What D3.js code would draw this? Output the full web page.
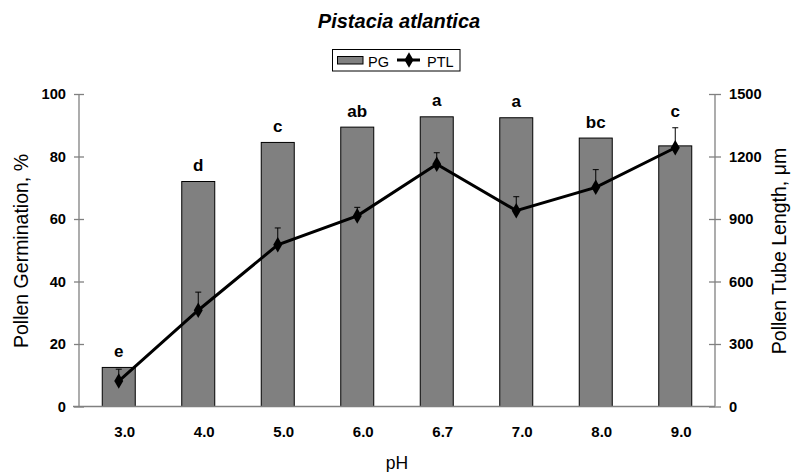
<!DOCTYPE html>
<html><head><meta charset="utf-8">
<script src="https://cdn.jsdelivr.net/npm/d3@7"></script>
<style>body{margin:0;background:#fff}svg{font-family:"Liberation Sans",Arial,sans-serif}</style>
</head><body><svg id="c" width="792" height="472"></svg>
<script>
const categories = ["3.0","4.0","5.0","6.0","6.7","7.0","8.0","9.0"];
const pgValues = [12.5, 72.0, 84.5, 89.4, 92.7, 92.4, 85.9, 83.4];
const ptlValues = [122, 462, 776, 915, 1163, 940, 1052, 1242];
const ptlErrors = [57, 87, 81, 41, 55, 67, 85, 96];
const letters = ["e","d","c","ab","a","a","bc","c"];
const leftTicks = [0,20,40,60,80,100];
const rightTicks = [0,300,600,900,1200,1500];

const svg = d3.select("#c");
const FF = "Liberation Sans, Arial, sans-serif";
const m = {l:79, r:715, t:94, b:406.5};
const x = d3.scaleBand().domain(categories).range([m.l, m.r]).paddingInner(0.585).paddingOuter(0.2925);
const yL = d3.scaleLinear().domain([0,100]).range([m.b, m.t]);
const yR = d3.scaleLinear().domain([0,1500]).range([m.b, m.t]);
const cx = d => x(d) + x.bandwidth()/2;

// title
svg.append("text").attr("x",399).attr("y",27.5).attr("text-anchor","middle")
  .attr("font-size",20).attr("font-weight","bold").attr("font-style","italic").text("Pistacia atlantica");

// bars
svg.selectAll("rect.bar").data(categories).enter().append("rect").attr("class","bar")
  .attr("x", d=>x(d)).attr("width", x.bandwidth())
  .attr("y", (d,i)=>yL(pgValues[i])).attr("height",(d,i)=>yL(0)-yL(pgValues[i]))
  .attr("fill","#808080").attr("stroke","#000").attr("stroke-width",1);

// axes
const axL = svg.append("g").attr("transform",`translate(${m.l},0)`)
  .call(d3.axisLeft(yL).tickValues(leftTicks).tickSize(5).tickPadding(8));
const axR = svg.append("g").attr("transform",`translate(${m.r},0)`)
  .call(d3.axisRight(yR).tickValues(rightTicks).tickFormat(d3.format("d")).tickSize(6).tickPadding(8));
[axL, axR].forEach(a=>{
  a.attr("font-size",14.5).attr("font-family",FF);
  a.select(".domain").attr("stroke","#808080").attr("stroke-width",1.3).attr("d", `M0,${m.b}V${m.t}`);
  a.selectAll(".tick line").attr("stroke","#808080").attr("stroke-width",1.3);
  a.selectAll(".tick text").attr("font-size",14.7).attr("font-weight","bold").attr("fill","#000");
});
axL.selectAll(".tick line").attr("x1",5).attr("x2",-5);
axR.selectAll(".tick line").attr("x1",-6).attr("x2",6);
const axB = svg.append("g").attr("transform",`translate(0,${m.b})`)
  .call(d3.axisBottom(x).tickSize(0).tickPadding(19.5));
axB.attr("font-size",15).attr("font-family",FF);
axB.select(".domain").attr("stroke","#808080").attr("stroke-width",1.3).attr("d",`M${m.l-6},0H${m.r}`);
axB.selectAll(".tick text").attr("font-size",15).attr("font-weight","bold").attr("fill","#000").attr("dx",6);

// error bars
const eg = svg.append("g");
categories.forEach((c,i)=>{
  const xx = cx(c), y0 = yR(ptlValues[i]), y1 = yR(ptlValues[i]+ptlErrors[i]);
  eg.append("line").attr("x1",xx).attr("x2",xx).attr("y1",y0).attr("y2",y1).attr("stroke","#000").attr("stroke-width",1);
  eg.append("line").attr("x1",xx-3).attr("x2",xx+3).attr("y1",y1).attr("y2",y1).attr("stroke","#000").attr("stroke-width",1);
});

// line
const line = d3.line().x((d,i)=>cx(categories[i])).y(d=>yR(d));
svg.append("path").datum(ptlValues).attr("d",line).attr("fill","none").attr("stroke","#000").attr("stroke-width",3);
const diamond = d3.symbol().type(d3.symbolDiamond).size(70);
svg.selectAll("path.pt").data(ptlValues).enter().append("path").attr("class","pt")
  .attr("d",diamond).attr("transform",(d,i)=>`translate(${cx(categories[i])},${yR(d)})`).attr("fill","#000");

// letters
svg.selectAll("text.let").data(letters).enter().append("text").attr("class","let")
  .attr("x",(d,i)=>cx(categories[i]))
  .attr("y",(d,i)=>Math.min(yL(pgValues[i]), yR(ptlValues[i]+ptlErrors[i])) - 10.5)
  .attr("text-anchor","middle").attr("font-size",17).attr("font-weight","bold").text(d=>d);

// axis titles
svg.append("text").attr("transform","translate(28,251) rotate(-90)").attr("text-anchor","middle")
  .attr("font-size",19.5).text("Pollen Germination, %");
svg.append("text").attr("transform","translate(786,251) rotate(-90)").attr("text-anchor","middle")
  .attr("font-size",19.5).text("Pollen Tube Length, μm");
svg.append("text").attr("x",397).attr("y",469).attr("text-anchor","middle").attr("font-size",17.5).text("pH");

// legend
const lg = svg.append("g");
lg.append("rect").attr("x",332.5).attr("y",49.5).attr("width",127.5).attr("height",21.5).attr("fill","#fff").attr("stroke","#000").attr("stroke-width",1);
lg.append("rect").attr("x",337.5).attr("y",56.5).attr("width",25.5).attr("height",7.5).attr("fill","#808080").attr("stroke","#000").attr("stroke-width",1);
lg.append("text").attr("x",368).attr("y",66.5).attr("font-size",14.5).text("PG");
lg.append("line").attr("x1",397).attr("x2",420).attr("y1",60).attr("y2",60).attr("stroke","#000").attr("stroke-width",3);
lg.append("path").attr("d",diamond).attr("transform","translate(409,60)").attr("fill","#000");
lg.append("text").attr("x",427).attr("y",66.5).attr("font-size",14.5).text("PTL");
</script></body></html>
